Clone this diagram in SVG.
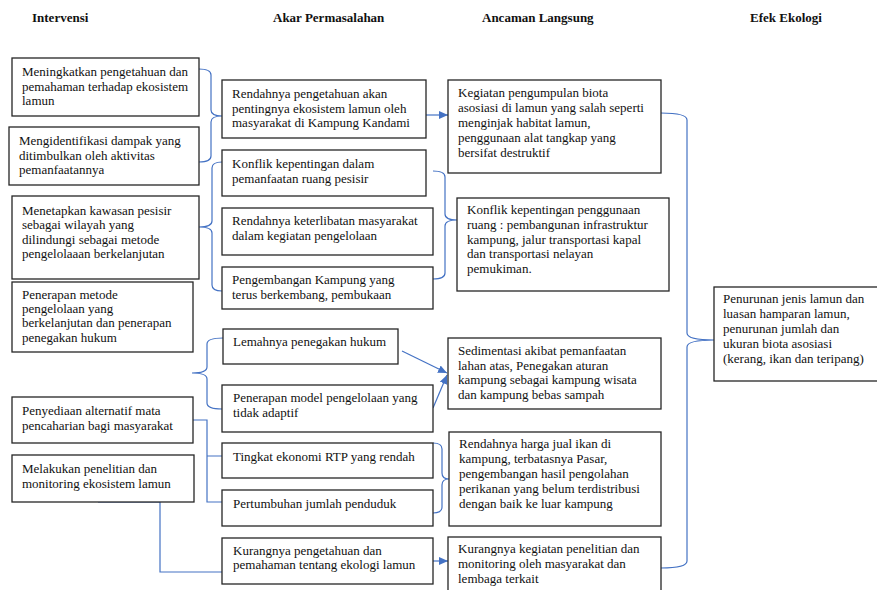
<svg xmlns="http://www.w3.org/2000/svg" width="877" height="590" viewBox="0 0 877 590">
<style>
.box{fill:#fff;stroke:#262626;stroke-width:1.3}
.t{font-family:"Liberation Serif","Times New Roman",serif;font-size:13px;fill:#111}
.h{font-family:"Liberation Serif","Times New Roman",serif;font-size:13px;font-weight:bold;fill:#111}
.c{fill:none;stroke:#4472C4;stroke-width:1.2}
</style>
<defs>
<marker id="ah" markerUnits="userSpaceOnUse" markerWidth="10" markerHeight="10" refX="9" refY="5" orient="auto">
<path d="M0,1 L9,5 L0,9 Z" fill="#4472C4"/>
</marker>
</defs>
<rect width="877" height="590" fill="#fff"/>

<g id="titles">
<text class="h" x="32" y="22">Intervensi</text>
<text class="h" x="273" y="22">Akar Permasalahan</text>
<text class="h" x="482" y="22">Ancaman Langsung</text>
<text class="h" x="750" y="22">Efek Ekologi</text>
</g>

<g id="connectors">
<path class="c" d="M199,69 Q211,69 211,75 L211,110 Q211,116 222,116 Q211,116 211,122 L211,156 Q211,162 199,162"/>
<path class="c" d="M222,162 Q212,162 212,168 L212,221 Q212,227 199,227 Q212,227 212,233 L212,285 Q212,291 222,291"/>
<path class="c" d="M223,338 Q207,338 207,344 L207,367 Q207,373 192,373 Q207,373 207,379 L207,403 Q207,409 222,409"/>
<path class="c" d="M193,420 L207,420 L207,502 L222,502 M207,456 L222,456"/>
<path class="c" d="M98,502 L160,502 L160,572 L222,572"/>
<path class="c" d="M433,171 Q445,171 445,177 L445,214 Q445,220 457,220 Q445,220 445,226 L445,273 Q445,279 433,279"/>
<path class="c" d="M433,443 Q442,443 442,449 L442,473 Q442,479 449,479 Q442,479 442,485 L442,507 Q442,513 433,513"/>
<path class="c" d="M661,113 Q687,113 687,120 L687,333 Q687,340 714,340 Q687,340 687,347 L687,561 Q687,568 661,568"/>
<line class="c" x1="426" y1="115" x2="448" y2="115" marker-end="url(#ah)"/>
<line class="c" x1="402" y1="351" x2="447" y2="373" marker-end="url(#ah)"/>
<line class="c" x1="433" y1="408" x2="447" y2="375" marker-end="url(#ah)"/>
<line class="c" x1="433" y1="561" x2="448" y2="561" marker-end="url(#ah)"/>
</g>

<g id="n-meningkatkan">
<rect class="box" x="12" y="58" width="187" height="58"/>
<text class="t" x="22" y="76">Meningkatkan pengetahuan dan</text>
<text class="t" x="22" y="90.5">pemahaman terhadap ekosistem</text>
<text class="t" x="22" y="105">lamun</text>
</g>
<g id="n-mengidentifikasi">
<rect class="box" x="9" y="127" width="190" height="58"/>
<text class="t" x="19" y="145">Mengidentifikasi dampak yang</text>
<text class="t" x="19" y="159.5">ditimbulkan oleh aktivitas</text>
<text class="t" x="19" y="174">pemanfaatannya</text>
</g>
<g id="n-menetapkan">
<rect class="box" x="12" y="196" width="187" height="83"/>
<text class="t" x="22" y="215">Menetapkan kawasan pesisir</text>
<text class="t" x="22" y="229">sebagai wilayah yang</text>
<text class="t" x="22" y="243.5">dilindungi sebagai metode</text>
<text class="t" x="22" y="257.5">pengelolaaan berkelanjutan</text>
</g>
<g id="n-penerapan-metode">
<rect class="box" x="12" y="282" width="181" height="70"/>
<text class="t" x="22" y="298.5">Penerapan metode</text>
<text class="t" x="22" y="313">pengelolaan yang</text>
<text class="t" x="22" y="327">berkelanjutan dan penerapan</text>
<text class="t" x="22" y="341.5">penegakan hukum</text>
</g>
<g id="n-penyediaan">
<rect class="box" x="12" y="397" width="181" height="46"/>
<text class="t" x="22" y="415">Penyediaan alternatif mata</text>
<text class="t" x="22" y="429.5">pencaharian bagi masyarakat</text>
</g>
<g id="n-melakukan">
<rect class="box" x="12" y="455" width="182" height="47"/>
<text class="t" x="22" y="473">Melakukan penelitian dan</text>
<text class="t" x="22" y="487.5">monitoring ekosistem lamun</text>
</g>

<g id="n-rendahnya-pengetahuan">
<rect class="box" x="222" y="80" width="204" height="58"/>
<text class="t" x="232" y="98">Rendahnya pengetahuan akan</text>
<text class="t" x="232" y="112.5">pentingnya ekosistem lamun oleh</text>
<text class="t" x="232" y="127">masyarakat di Kampung Kandami</text>
</g>
<g id="n-konflik-dalam">
<rect class="box" x="222" y="150" width="204" height="46"/>
<text class="t" x="232" y="168">Konflik kepentingan dalam</text>
<text class="t" x="232" y="182.5">pemanfaatan ruang pesisir</text>
</g>
<g id="n-keterlibatan">
<rect class="box" x="222" y="208" width="211" height="47"/>
<text class="t" x="232" y="225">Rendahnya keterlibatan masyarakat</text>
<text class="t" x="232" y="239.5">dalam kegiatan pengelolaan</text>
</g>
<g id="n-pengembangan">
<rect class="box" x="222" y="267" width="211" height="42"/>
<text class="t" x="232" y="284">Pengembangan Kampung yang</text>
<text class="t" x="232" y="299">terus berkembang, pembukaan</text>
</g>
<g id="n-lemahnya">
<rect class="box" x="223" y="329" width="175" height="35"/>
<text class="t" x="233" y="345.5">Lemahnya penegakan hukum</text>
</g>
<g id="n-penerapan-model">
<rect class="box" x="222" y="385" width="211" height="47"/>
<text class="t" x="233" y="402">Penerapan model pengelolaan yang</text>
<text class="t" x="233" y="416.5">tidak adaptif</text>
</g>
<g id="n-tingkat">
<rect class="box" x="222" y="443" width="211" height="35"/>
<text class="t" x="233" y="460.5">Tingkat ekonomi RTP yang rendah</text>
</g>
<g id="n-pertumbuhan">
<rect class="box" x="222" y="490" width="211" height="36"/>
<text class="t" x="233" y="508">Pertumbuhan jumlah penduduk</text>
</g>
<g id="n-kurangnya-pengetahuan">
<rect class="box" x="222" y="538" width="211" height="46"/>
<text class="t" x="233" y="555">Kurangnya pengetahuan dan</text>
<text class="t" x="233" y="569">pemahaman tentang ekologi lamun</text>
</g>

<g id="n-kegiatan">
<rect class="box" x="448" y="80" width="213" height="93"/>
<text class="t" x="458" y="97">Kegiatan pengumpulan biota</text>
<text class="t" x="458" y="112">asosiasi di lamun yang salah seperti</text>
<text class="t" x="458" y="127">menginjak habitat lamun,</text>
<text class="t" x="458" y="142">penggunaan alat tangkap yang</text>
<text class="t" x="458" y="157">bersifat destruktif</text>
</g>
<g id="n-konflik-penggunaan">
<rect class="box" x="457" y="198" width="212" height="93"/>
<text class="t" x="467" y="214">Konflik kepentingan penggunaan</text>
<text class="t" x="467" y="229">ruang : pembangunan infrastruktur</text>
<text class="t" x="467" y="243.5">kampung, jalur transportasi kapal</text>
<text class="t" x="467" y="258">dan transportasi nelayan</text>
<text class="t" x="467" y="272.5">pemukiman.</text>
</g>
<g id="n-sedimentasi">
<rect class="box" x="448" y="338" width="213" height="71"/>
<text class="t" x="458" y="355">Sedimentasi akibat pemanfaatan</text>
<text class="t" x="458" y="369.5">lahan atas, Penegakan aturan</text>
<text class="t" x="458" y="384">kampung sebagai kampung wisata</text>
<text class="t" x="458" y="398.5">dan kampung bebas sampah</text>
</g>
<g id="n-rendahnya-harga">
<rect class="box" x="449" y="432" width="212" height="94"/>
<text class="t" x="459" y="448">Rendahnya harga jual ikan di</text>
<text class="t" x="459" y="463">kampung, terbatasnya Pasar,</text>
<text class="t" x="459" y="478">pengembangan hasil pengolahan</text>
<text class="t" x="459" y="493">perikanan yang belum terdistribusi</text>
<text class="t" x="459" y="508">dengan baik ke luar kampung</text>
</g>
<g id="n-kurangnya-kegiatan">
<rect class="box" x="448" y="537" width="213" height="60"/>
<text class="t" x="458" y="553">Kurangnya kegiatan penelitian dan</text>
<text class="t" x="458" y="568">monitoring oleh masyarakat dan</text>
<text class="t" x="458" y="583">lembaga terkait</text>
</g>

<g id="n-efek">
<rect class="box" x="714" y="287" width="170" height="94"/>
<text class="t" x="723" y="303">Penurunan jenis lamun dan</text>
<text class="t" x="723" y="318">luasan hamparan lamun,</text>
<text class="t" x="723" y="333">penurunan jumlah dan</text>
<text class="t" x="723" y="348">ukuran biota asosiasi</text>
<text class="t" x="723" y="363">(kerang, ikan dan teripang)</text>
</g>
</svg>
